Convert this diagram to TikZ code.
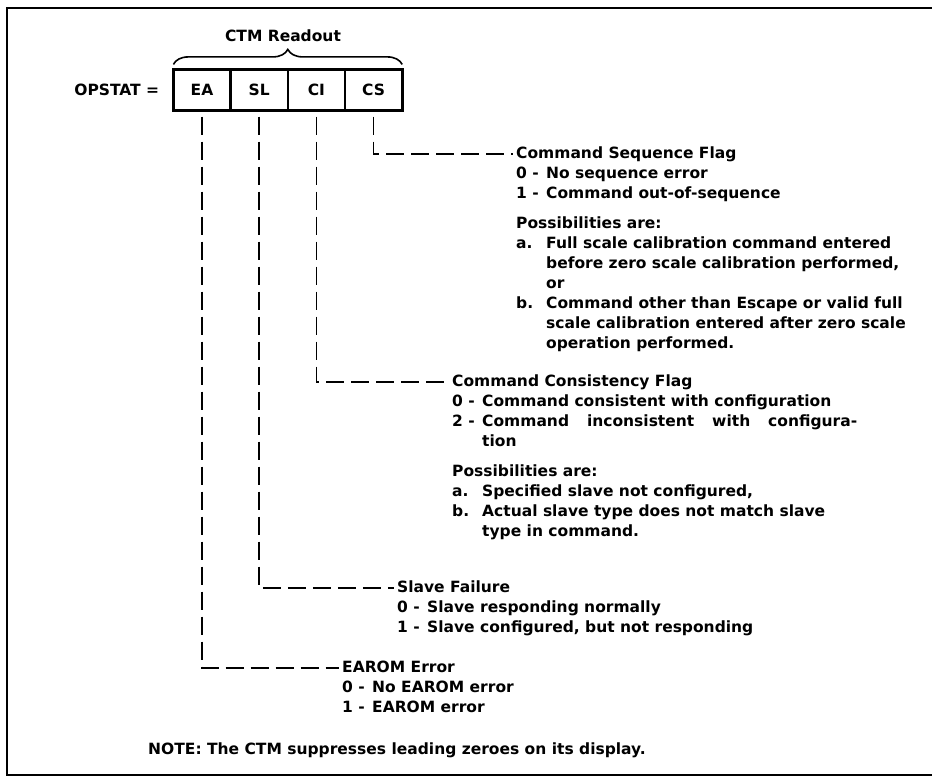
\documentclass[tikz,border=0pt]{standalone}
\usepackage{fontspec}
\setmainfont{DejaVu Sans}
\usetikzlibrary{positioning, decorations.pathreplacing}
\newcommand{\itemline}[2]{\makebox[30pt][l]{#1}#2}
\newcommand{\hang}{\hspace*{30pt}}
\tikzset{
every node/.style={inner sep=0pt, font=\fontsize{15.5}{20}\selectfont\bfseries}, % bold text, tight leading
cell/.style={draw, line width=1.2pt, minimum width=56pt, minimum height=40pt}, % one field of the readout
flag/.style={anchor=west, text height=12pt, text depth=3.5pt}, % flag titles, the leads end here
info/.style={align=left},
lead/.style={line width=1.6pt, dash pattern=on 18pt off 7pt, shorten >=3pt},
frame/.style={line width=2.5pt},
}

\begin{document}
\begin{tikzpicture}[x=1pt, y=-1pt]
\useasboundingbox (0,0) rectangle (932,777);
\draw[frame] (932,8) -- (7,8) -- (7,775) -- (932,775);

% readout
\node[cell] (ea) at (202,90) {EA};
\node[cell, right=0pt of ea] (sl) {SL};
\node[cell, right=0pt of sl] (ci) {CI};
\node[cell, right=0pt of ci] (cs) {CS};
\draw[line width=3pt] (ea.north west) rectangle (cs.south east);
\node[left=14pt of ea] (opstat) {OPSTAT =};
\draw[line width=1.6pt, decorate, decoration={brace, amplitude=15pt, raise=5pt}] (ea.north west) -- (cs.north east);
\node (readout) at (283,36) {CTM Readout};

% flags
\node[flag] (csflag) at (516,154) {Command Sequence Flag};
\node[info, below right=5pt and 0pt of csflag.south west] (csinfo) {
\itemline{0 -}{No sequence error}\\
\itemline{1 -}{Command out-of-sequence}\\[10pt]
Possibilities are:\\
\itemline{a.}{Full scale calibration command entered}\\
\hang before zero scale calibration performed,\\
\hang or\\
\itemline{b.}{Command other than Escape or valid full}\\
\hang scale calibration entered after zero scale\\
\hang operation performed.};

\node[flag] (ciflag) at (452,382) {Command Consistency Flag};
\node[info, below right=5pt and 0pt of ciflag.south west] (ciinfo) {
\itemline{0 -}{Command consistent with configuration}\\
\itemline{2 -}{\makebox[375pt][s]{Command inconsistent with configura-}}\\
\hang tion\\[10pt]
Possibilities are:\\
\itemline{a.}{Specified slave not configured,}\\
\itemline{b.}{Actual slave type does not match slave}\\
\hang type in command.};

\node[flag] (slflag) at (397,588) {Slave Failure};
\node[info, below right=5pt and 0pt of slflag.south west] (slinfo) {
\itemline{0 -}{Slave responding normally}\\
\itemline{1 -}{Slave configured, but not responding}};

\node[flag] (eaflag) at (342,668) {EAROM Error};
\node[info, below right=5pt and 0pt of eaflag.south west] (eainfo) {
\itemline{0 -}{No EAROM error}\\
\itemline{1 -}{EAROM error}};

\draw[lead] ([yshift=-6pt]cs.south) |- (csflag);
\draw[lead] ([yshift=-6pt]ci.south) |- (ciflag);
\draw[lead] ([yshift=-6pt]sl.south) |- (slflag);
\draw[lead] ([yshift=-6pt]ea.south) |- (eaflag);

\node[anchor=west] (note) at (148,750) {NOTE: The CTM suppresses leading zeroes on its display.};
\end{tikzpicture}
\end{document}
